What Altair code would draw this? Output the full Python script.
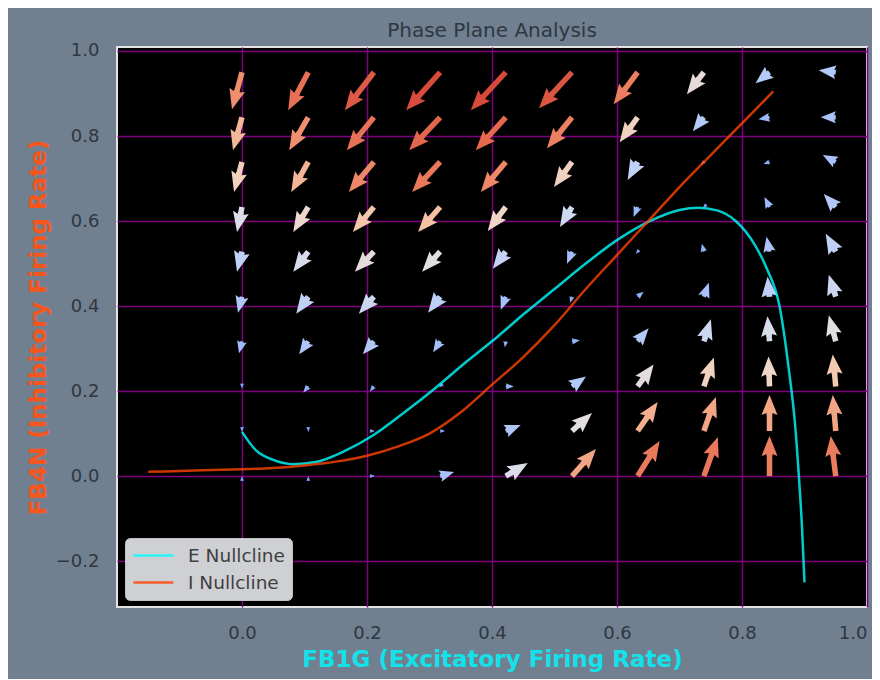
import math
import altair as alt
import pandas as pd

# ---------------- data ----------------
GRID_E = [0.0, 0.106, 0.211, 0.317, 0.422, 0.528, 0.633, 0.739, 0.844, 0.95]
GRID_I = [0.0, 0.106, 0.211, 0.317, 0.422, 0.528, 0.633, 0.739, 0.844, 0.95]

# dE/dt per grid cell, rows follow GRID_I (bottom row first), columns follow GRID_E
DE = [
    [0.00, 0.00, 0.01, 0.14, 0.22, 0.24, 0.22, 0.14, 0.00, -0.05],
    [0.00, 0.00, 0.01, 0.05, 0.15, 0.20, 0.20, 0.12, 0.00, -0.03],
    [0.00, -0.05, -0.04, -0.01, 0.08, 0.14, 0.16, 0.10, -0.01, -0.03],
    [-0.03, -0.09, -0.11, -0.07, -0.01, 0.08, 0.11, 0.07, -0.02, -0.07],
    [-0.04, -0.12, -0.15, -0.12, -0.05, -0.02, 0.06, 0.05, -0.02, -0.07],
    [-0.05, -0.15, -0.19, -0.18, -0.13, -0.05, -0.02, -0.02, -0.03, -0.10],
    [-0.05, -0.15, -0.21, -0.22, -0.18, -0.12, -0.04, -0.01, -0.05, -0.12],
    [-0.08, -0.17, -0.25, -0.28, -0.25, -0.18, -0.10, -0.03, -0.06, -0.13],
    [-0.09, -0.19, -0.27, -0.31, -0.30, -0.25, -0.18, -0.11, -0.11, -0.15],
    [-0.10, -0.20, -0.29, -0.34, -0.35, -0.33, -0.24, -0.17, -0.14, -0.17],
]
# dI/dt per grid cell
DI = [
    [0.00, 0.00, 0.00, 0.04, 0.13, 0.27, 0.35, 0.39, 0.40, 0.40],
    [-0.01, -0.01, 0.00, 0.00, 0.06, 0.18, 0.29, 0.34, 0.36, 0.36],
    [-0.02, -0.06, -0.05, -0.01, 0.00, 0.10, 0.22, 0.29, 0.30, 0.32],
    [-0.12, -0.13, -0.13, -0.11, -0.06, 0.01, 0.13, 0.22, 0.25, 0.26],
    [-0.16, -0.17, -0.17, -0.16, -0.13, -0.06, 0.05, 0.14, 0.20, 0.22],
    [-0.20, -0.20, -0.20, -0.20, -0.17, -0.12, -0.02, 0.08, 0.15, 0.18],
    [-0.25, -0.25, -0.25, -0.25, -0.24, -0.20, -0.10, -0.01, 0.10, 0.13],
    [-0.30, -0.30, -0.30, -0.30, -0.30, -0.25, -0.18, -0.03, -0.02, 0.07],
    [-0.33, -0.33, -0.33, -0.33, -0.33, -0.31, -0.25, -0.14, -0.02, 0.00],
    [-0.37, -0.38, -0.38, -0.38, -0.38, -0.36, -0.32, -0.22, -0.11, 0.02],
]

E_NULL_X = [0.0, 0.022, 0.05, 0.082, 0.118, 0.16, 0.21, 0.26, 0.31, 0.36, 0.40, 0.45,
            0.50, 0.55, 0.60, 0.65, 0.70, 0.73, 0.76, 0.79, 0.82, 0.84, 0.86, 0.875,
            0.885, 0.891, 0.896, 0.90]
E_NULL_Y = [0.104, 0.061, 0.038, 0.028, 0.033, 0.056, 0.096, 0.15, 0.208, 0.27, 0.317, 0.38,
            0.44, 0.50, 0.555, 0.598, 0.626, 0.631, 0.625, 0.60, 0.545, 0.487, 0.40, 0.25,
            0.12, 0.0, -0.12, -0.25]

I_NULL_X = [-0.15, -0.10, -0.05, 0.0, 0.05, 0.10, 0.15, 0.20, 0.25, 0.30, 0.35, 0.40,
            0.45, 0.50, 0.55, 0.60, 0.65, 0.70, 0.75, 0.80, 0.85]
I_NULL_Y = [0.010, 0.012, 0.014, 0.016, 0.019, 0.025, 0.034, 0.048, 0.07, 0.10, 0.15, 0.215,
            0.28, 0.355, 0.44, 0.52, 0.60, 0.68, 0.755, 0.83, 0.905]

X_TICKS = [0.0, 0.2, 0.4, 0.6, 0.8, 1.0]
Y_TICKS = [-0.2, 0.0, 0.2, 0.4, 0.6, 0.8, 1.0]

# ---------------- layout / styling ----------------
W, H = 750, 560
X_DOMAIN = [-0.2, 1.0]
Y_DOMAIN = [-0.308, 1.0094]
PX_X = W / (X_DOMAIN[1] - X_DOMAIN[0])
PX_Y = H / (Y_DOMAIN[1] - Y_DOMAIN[0])
QUIVER_PX = 100.0          # pixels per unit of the vector field
HEAD_LEN = 20.0            # px
HEAD_AXIS = 18.0           # px

HEAD_PATH = "M0,0 L0.8,2 L0.28,1.8 L0.28,2 L-0.28,2 L-0.28,1.8 L-0.8,2 Z"

rows = []
for j, yv in enumerate(GRID_I):
    for i, xv in enumerate(GRID_E):
        u, v = DE[j][i], DI[j][i]
        mag = math.hypot(u, v)
        L = mag * QUIVER_PX
        du = u * QUIVER_PX / PX_X
        dv = v * QUIVER_PX / PX_Y
        f = (L - HEAD_AXIS) / L if L > HEAD_LEN else 0.0
        rows.append({
            "x": xv, "y": yv, "mag": mag, "L": L,
            "tx": xv + du, "ty": yv + dv,
            "sx2": xv + f * du, "sy2": yv + f * dv,
            "angle": math.degrees(math.atan2(u, v)) % 360,
            "hsize": max(min(L, HEAD_LEN), 5.0) ** 2,
        })
arrows = pd.DataFrame(rows)
shafts = arrows[arrows["L"] > HEAD_LEN]

lines = pd.DataFrame(
    [{"curve": "E Nullcline", "idx": k, "x": a, "y": b} for k, (a, b) in enumerate(zip(E_NULL_X, E_NULL_Y))]
    + [{"curve": "I Nullcline", "idx": k, "x": a, "y": b} for k, (a, b) in enumerate(zip(I_NULL_X, I_NULL_Y))]
)

xs = alt.Scale(domain=X_DOMAIN, nice=False, zero=False)
ys = alt.Scale(domain=Y_DOMAIN, nice=False, zero=False)

xax = alt.Axis(title="FB1G (Excitatory Firing Rate)", values=X_TICKS, format=".1f",
               labelPadding=17, labelFlush=3, titleColor="#12e2ea", titleX=W / 2, titleY=59,
               titleAlign="center", titleBaseline="alphabetic")
yax = alt.Axis(title="FB4N (Inhibitory Firing Rate)", values=Y_TICKS, format=".1f",
               labelPadding=18, labelFlush=False, titleColor="#f5561d", titleX=-72, titleY=H / 2,
               titleAngle=270, titleAlign="center", titleBaseline="alphabetic")

cmap = alt.Scale(
    domain=[0.0, 0.10, 0.20, 0.26, 0.30, 0.33, 0.37, 0.40, 0.45, 0.52],
    range=["#7b9ff9", "#98b6fb", "#bccff6", "#dddfe8", "#f0d6c8", "#f4c4a8",
           "#f19c7a", "#ec7e60", "#e3674e", "#d5473a"],
    interpolate="rgb",
)

shaft_layer = alt.Chart(shafts).mark_rule(strokeWidth=5.5, strokeCap="butt").encode(
    x=alt.X("x:Q", scale=xs, axis=xax),
    y=alt.Y("y:Q", scale=ys, axis=yax),
    x2="sx2:Q",
    y2="sy2:Q",
    color=alt.Color("mag:Q", scale=cmap, legend=None),
)

head_layer = alt.Chart(arrows).mark_point(shape=HEAD_PATH, filled=True, opacity=1, strokeWidth=0).encode(
    x=alt.X("tx:Q", scale=xs, axis=xax),
    y=alt.Y("ty:Q", scale=ys, axis=yax),
    angle=alt.Angle("angle:Q", scale=None),
    size=alt.Size("hsize:Q", scale=None),
    color=alt.Color("mag:Q", scale=cmap, legend=None),
)

line_layer = alt.Chart(lines).mark_line(strokeWidth=2.5, opacity=0.8, interpolate="monotone").encode(
    x=alt.X("x:Q", scale=xs, axis=xax),
    y=alt.Y("y:Q", scale=ys, axis=yax),
    order="idx:Q",
    stroke=alt.Stroke(
        "curve:N",
        scale=alt.Scale(domain=["E Nullcline", "I Nullcline"], range=["#00ffff", "#ff4500"]),
        legend=alt.Legend(
            title=None, orient="none", legendX=8, legendY=491,
            fillColor="#cfd0d3", strokeColor="#c4c4c4", cornerRadius=5, padding=7,
            labelFontSize=18.5, labelColor="#404040", labelFont="DejaVu Sans",
            symbolType="stroke", symbolSize=1600, symbolStrokeWidth=2.5,
            symbolOpacity=0.8, rowPadding=6, labelOffset=13, clipHeight=21,
        ),
    ),
)

chart = alt.layer(shaft_layer, head_layer, line_layer).properties(
    width=W,
    height=H,
    title=alt.Title("Phase Plane Analysis", fontSize=20, color="#2f3742",
                    fontWeight="normal", font="DejaVu Sans", offset=0.5),
    autosize=alt.AutoSizeParams(type="none"),
    padding={"left": 109, "top": 39, "right": 5, "bottom": 72},
).configure(
    background="#708090",
    font="DejaVu Sans",
).configure_view(
    fill="black", stroke="#e4e4e4", strokeWidth=2,
).configure_axis(
    grid=True, gridColor="#800080", gridWidth=1.5, gridOpacity=1,
    domain=False, ticks=False,
    labelFontSize=18, labelColor="#2f3742", labelFont="DejaVu Sans",
    titleFontSize=23, titleFontWeight="bold", titleFont="DejaVu Sans",
)

chart.save("out.html", embed_options={"renderer": "svg", "actions": False})
